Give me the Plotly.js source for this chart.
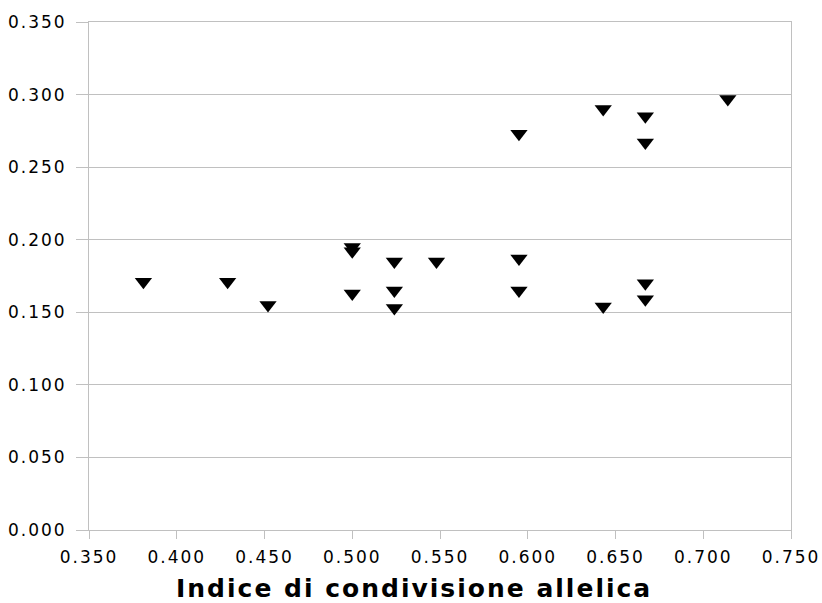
<!DOCTYPE html>
<html>
<head>
<meta charset="utf-8">
<script src="https://cdn.plot.ly/plotly-3.0.1.min.js"></script>
<style>
html, body { margin: 0; padding: 0; background: #fff; }
#chart { width: 822px; height: 603px; }
.xtick text, .ytick text { letter-spacing: 2px; }
.annotation-text { letter-spacing: 2px; }
</style>
</head>
<body>
<div id="chart"></div>
<script>
// Indice di condivisione allelica (x) vs. y value
const xValues = [0.381, 0.429, 0.452, 0.500, 0.500, 0.500, 0.524, 0.524, 0.524, 0.548,
                 0.595, 0.595, 0.595, 0.643, 0.643, 0.667, 0.667, 0.667, 0.667, 0.714];
const yValues = [0.171, 0.171, 0.155, 0.195, 0.192, 0.163, 0.185, 0.165, 0.153, 0.185,
                 0.273, 0.187, 0.165, 0.290, 0.154, 0.285, 0.267, 0.170, 0.159, 0.297];
const xTicks = [0.350, 0.400, 0.450, 0.500, 0.550, 0.600, 0.650, 0.700, 0.750];
const yTicks = [0.000, 0.050, 0.100, 0.150, 0.200, 0.250, 0.300, 0.350];
const xTitle = "Indice di condivisione allelica";

const gridColor = "#c0c0c0";
const tickFont = { family: "DejaVu Sans, Arial, sans-serif", size: 17, color: "#000" };

const trace = {
  type: "scatter",
  mode: "markers",
  x: xValues,
  y: yValues,
  marker: { symbol: "triangle-down", size: 15, color: "#000", line: { width: 0 } },
  hoverinfo: "x+y",
  showlegend: false
};

const layout = {
  width: 822,
  height: 603,
  margin: { l: 89, r: 31, t: 22, b: 73 },
  paper_bgcolor: "#fff",
  plot_bgcolor: "#fff",
  showlegend: false,
  xaxis: {
    range: [0.350, 0.750],
    tickvals: xTicks,
    ticktext: xTicks.map(v => v.toFixed(3)),
    showgrid: false,
    zeroline: false,
    showline: true,
    linecolor: gridColor,
    linewidth: 1,
    mirror: true,
    ticks: "outside",
    ticklen: 8,
    tickcolor: gridColor,
    tickfont: tickFont,
    ticklabelstandoff: 4,
    fixedrange: true
  },
  yaxis: {
    range: [0.000, 0.350],
    tickvals: yTicks,
    ticktext: yTicks.map(v => v.toFixed(3)),
    showgrid: true,
    gridcolor: gridColor,
    gridwidth: 1,
    zeroline: false,
    showline: true,
    linecolor: gridColor,
    linewidth: 1,
    mirror: true,
    ticks: "outside",
    ticklen: 12,
    tickcolor: gridColor,
    tickfont: tickFont,
    ticklabelstandoff: 6,
    fixedrange: true
  },
  annotations: [{
    text: xTitle,
    xref: "paper", yref: "paper",
    x: 0.463, y: -0.116,
    xanchor: "center", yanchor: "middle",
    showarrow: false,
    font: { family: "DejaVu Sans, Arial, sans-serif", size: 25, color: "#000", weight: "bold" }
  }]
};

Plotly.newPlot("chart", [trace], layout, { staticPlot: true, displayModeBar: false });
</script>
</body>
</html>
